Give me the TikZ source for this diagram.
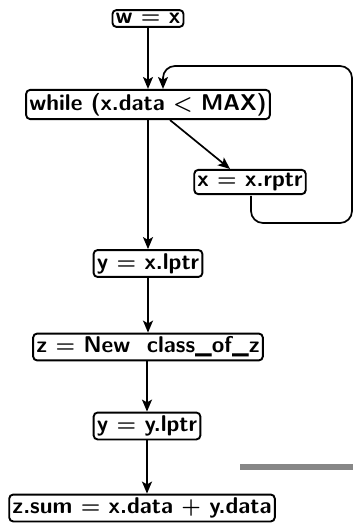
\documentclass[tikz,border=0pt]{standalone}
\usepackage{amsmath}
\usepackage{tikz}
\usetikzlibrary{arrows.meta, positioning, calc}

\tikzset{
  stmt/.style={draw, line width=0.95pt, rounded corners=2pt, inner sep=1.6pt, font=\fontsize{11.4}{13}\selectfont\sffamily\bfseries\boldmath},
  flow/.style={line width=0.85pt, -{Stealth[length=6pt, width=5pt, inset=1.4pt]}}
}

\begin{document}
\begin{tikzpicture}[x=0.5pt, y=-0.5pt]
\useasboundingbox (0,0) rectangle (353,523);
% Statements
\node[stmt] (wx) at (148,18.5) {w $=$ x};
\node[stmt] (loop) at (148,104.5) {while (x.data $<$ MAX)};
\node[stmt] (rptr) at (250,182) {x $=$ x.rptr};
\node[stmt] (ylx) at (148,263.5) {y $=$ x.lptr};
\node[stmt] (znew) at (148,347) {z $=$ New\ \ class\_of\_z};
\node[stmt] (yly) at (147,426) {y $=$ y.lptr};
\node[stmt] (zsum) at (142,508) {z.sum $=$ x.data $+$ y.data};

% Arrows
\draw[flow] (wx.south -| loop.north) -- (loop.north);
\draw[flow] ($(loop.south)+(22,0)$) -- ($(rptr.north)+(-20,0)$);
\draw[flow] (loop.south) -- (ylx.north);
\draw[flow] (ylx) -- (znew);
\draw[flow] (znew.south -| yly.north) -- (yly.north);
\draw[flow] (yly.south) -- (zsum.north -| yly.south);

% back edge of the loop
\coordinate (back) at (163,66);
\draw[flow, rounded corners=6pt] (251,196) |- (352,223) |- (back) -- (back |- loop.north);

% grey bar
\fill[black!47] (240,464) rectangle (353,470);
\end{tikzpicture}
\end{document}
